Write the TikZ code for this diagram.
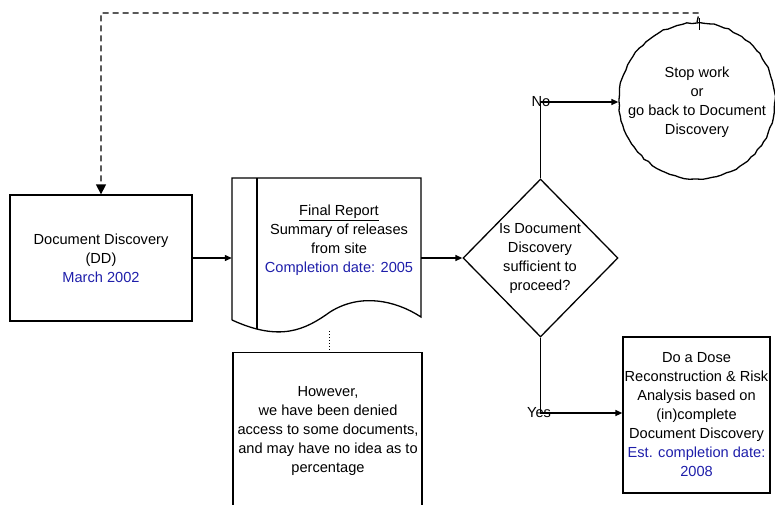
\documentclass[tikz,border=0pt]{standalone}
\usepackage{fontspec}
\setmainfont{Liberation Sans}
\usetikzlibrary{arrows.meta,shapes.geometric,decorations.pathmorphing}
\definecolor{dateblue}{RGB}{30,30,170}
\begin{document}
\begin{tikzpicture}[x=1pt,y=-1pt,
  every node/.style={font=\fontsize{14.6}{19}\selectfont, align=center, inner sep=0pt},
  box/.style={draw, line width=1.3pt, rectangle},
  conn/.style={line width=1.3pt, -{Triangle[length=7pt,width=6pt]}},
  plainline/.style={line width=1.3pt}]
\useasboundingbox (0,0) rectangle (775,504);

% Document Discovery box
\node[box, minimum width=182pt, minimum height=126pt] (dd) at (101,258)
  {Document Discovery\\(DD)\\\textcolor{dateblue}{March 2002}};

% Final report document shape
\node[minimum width=189pt, minimum height=142pt] (rep) at (326.5,249) {};
\draw[plainline] (232,320) -- (232,178) -- (421,178) -- (421,317)
  .. controls (395,300) and (360,293) .. (330,312)
  .. controls (305,330) and (280,342) .. (232,320);
\draw[plainline] (257,178) -- (257,329);
\node (reptext) at (339,240)
  {\underline{Final Report}\\Summary of releases\\from site\\\textcolor{dateblue}{Completion date: 2005}};

% However box
\node[box, minimum width=189pt, minimum height=170pt, anchor=north] (how) at (327.5,352)
  {};
\node (howtext) at (328,431)
  {However,\\we have been denied\\access to some documents,\\and may have no idea as to\\percentage};
\draw[line width=1pt, dotted] (329,331) -- (how.north -| 329,0);

% Decision diamond
\node[draw, diamond, line width=1.3pt, minimum width=155pt, minimum height=158pt] (q) at (540.5,258) {};
\node (qtext) at (540,258) {Is Document\\Discovery\\sufficient to\\proceed?};

% Stop circle
\node[circle, minimum size=156pt, draw, line width=1.3pt,
  decorate, decoration={random steps, segment length=5pt, amplitude=0.7pt}] (stop) at (697,101) {};
\node (stoptext) at (697,102) {Stop work\\or\\go back to Document\\Discovery};

% Dose box
\node[box, minimum width=147pt, minimum height=156pt] (dose) at (696.5,415)
  {Do a Dose\\Reconstruction \& Risk\\Analysis based on\\(in)complete\\Document Discovery\\\textcolor{dateblue}{Est. completion date:}\\\textcolor{dateblue}{2008}};

% Connectors
\draw[conn] (dd.east) -- (dd.east -| rep.west);
\draw[conn] (421,258) -- (q.west);
\coordinate (nocorner) at (540.5,102);
\coordinate (yescorner) at (540.5,413);
\draw[conn] (q.north) -- (nocorner) -- (nocorner -| stop.west);
\draw[conn] (q.south) -- (yescorner) -- (yescorner -| dose.west);
\node (no) at (541,102) {No};
\node (yes) at (539,413) {Yes};

% Dashed feedback
\coordinate (topright) at (699,13);
\draw[line width=1.3pt, dash pattern=on 6pt off 4pt, -{Triangle[length=10pt,width=10pt]}] (stop.north) -- (topright) -| (dd.north);
\draw[line width=1pt] (699,18) -- (699,30);
\end{tikzpicture}
\end{document}
